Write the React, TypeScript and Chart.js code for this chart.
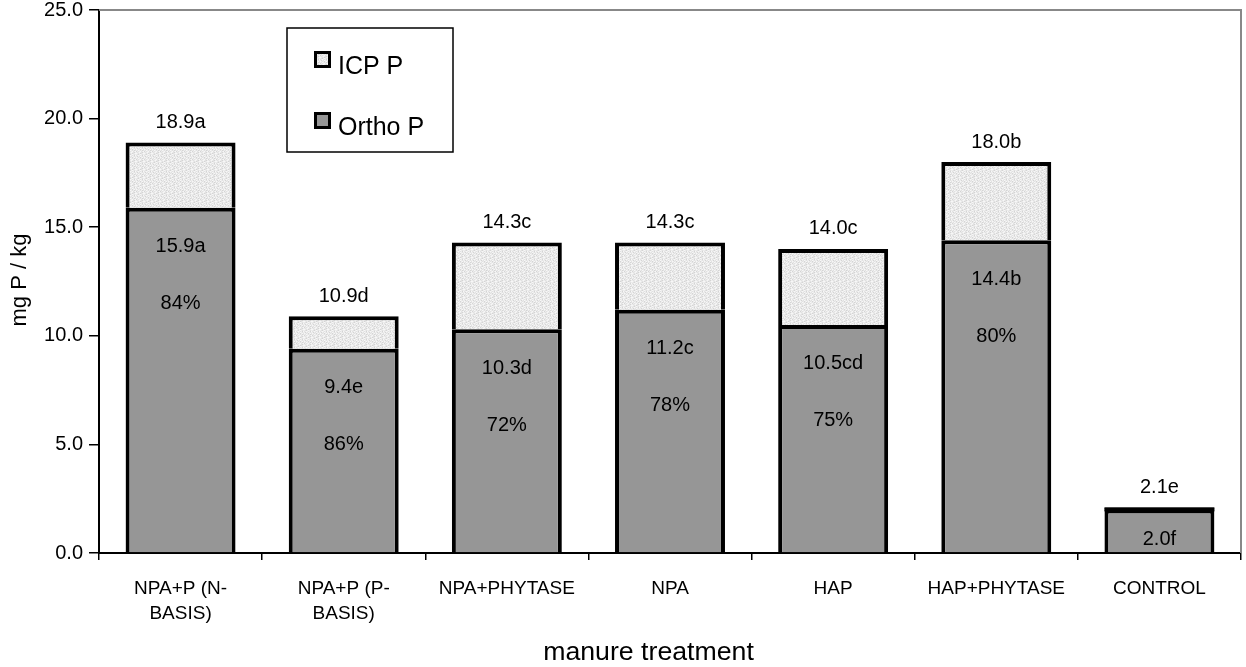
import React, { useEffect, useRef } from 'react';
import { Chart, registerables } from 'chart.js';

Chart.register(...registerables);

// ---- data ----
const categories: (string | string[])[] = [
  ['NPA+P (N-', 'BASIS)'],
  ['NPA+P (P-', 'BASIS)'],
  'NPA+PHYTASE',
  'NPA',
  'HAP',
  'HAP+PHYTASE',
  'CONTROL',
];
const totalP = [18.9, 10.9, 14.3, 14.3, 14.0, 18.0, 2.1];
const orthoP = [15.9, 9.4, 10.3, 11.2, 10.5, 14.4, 2.0];
const icpP = totalP.map((t, i) => Math.round((t - orthoP[i]) * 10) / 10);
const totalLabels = ['18.9a', '10.9d', '14.3c', '14.3c', '14.0c', '18.0b', '2.1e'];
const orthoLabels = ['15.9a', '9.4e', '10.3d', '11.2c', '10.5cd', '14.4b', '2.0f'];
const percentLabels = ['84%', '86%', '72%', '78%', '75%', '80%', ''];
const yTicks = [0, 5, 10, 15, 20, 25];
const seriesOrtho = 'Ortho P';
const seriesIcp = 'ICP P';
const xTitle = 'manure treatment';
const yTitle = 'mg P / kg';

const FONT = '"Liberation Sans", Arial, Helvetica, sans-serif';
const ORTHO_COLOR = '#969696';
const BAR_BORDER = 4;

function makePattern(): CanvasPattern | string {
  const tile = [
    'abacabda',
    'cabadbac',
    'abdacaba',
    'bacabadc',
    'adabcaba',
    'cabadacb',
    'abcabadb',
    'dabacbac',
  ];
  const colors: Record<string, string> = { a: '#ececec', b: '#e1e1e1', c: '#f7f7f7', d: '#d4d4d4' };
  const c = document.createElement('canvas');
  c.width = tile[0].length;
  c.height = tile.length;
  const g = c.getContext('2d');
  if (!g) return '#e8e8e8';
  tile.forEach((row, y) => {
    row.split('').forEach((ch, x) => {
      g.fillStyle = colors[ch];
      g.fillRect(x, y, 1, 1);
    });
  });
  const p = g.createPattern(c, 'repeat');
  return p || '#e8e8e8';
}

const annotPlugin = {
  id: 'annot',
  afterDatasetsDraw(chart: any) {
    // keep a full-weight top edge on very short stacked segments
    const ctx: CanvasRenderingContext2D = chart.ctx;
    const icpMeta = chart.getDatasetMeta(1);
    ctx.save();
    ctx.fillStyle = '#000';
    icpMeta.data.forEach((bar: any) => {
      const h = Math.abs(bar.base - bar.y);
      if (h < BAR_BORDER * 2) {
        const w = bar.width;
        ctx.fillRect(bar.x - w / 2, bar.y, w, BAR_BORDER);
      }
    });
    ctx.restore();
  },
  afterDraw(chart: any) {
    const ctx: CanvasRenderingContext2D = chart.ctx;
    const ca = chart.chartArea;
    ctx.save();
    // gray frame top/right
    ctx.strokeStyle = '#888888';
    ctx.lineWidth = 2;
    ctx.beginPath();
    ctx.moveTo(ca.left, ca.top);
    ctx.lineTo(ca.right, ca.top);
    ctx.lineTo(ca.right, ca.bottom);
    ctx.stroke();

    // value labels
    const orthoMeta = chart.getDatasetMeta(0);
    const icpMeta = chart.getDatasetMeta(1);
    ctx.fillStyle = '#000';
    ctx.font = `20px ${FONT}`;
    ctx.textAlign = 'center';
    ctx.textBaseline = 'middle';
    orthoMeta.data.forEach((bar: any, i: number) => {
      const x = bar.x;
      const top = icpMeta.data[i].y;
      ctx.fillText(totalLabels[i], x, top - 20);
      const oy = Math.min(bar.y + 39, bar.base - 13);
      ctx.fillText(orthoLabels[i], x, oy);
      if (percentLabels[i]) ctx.fillText(percentLabels[i], x, oy + 57);
    });

    // axis titles
    ctx.font = `26.7px ${FONT}`;
    ctx.textBaseline = 'alphabetic';
    ctx.fillText(xTitle, 648.5, 660);
    ctx.save();
    ctx.translate(20, 280);
    ctx.rotate(-Math.PI / 2);
    ctx.font = `22px ${FONT}`;
    ctx.textBaseline = 'middle';
    ctx.fillText(yTitle, 0, 0);
    ctx.restore();

    // legend box
    ctx.lineWidth = 1.5;
    ctx.strokeStyle = '#000';
    ctx.fillStyle = '#fff';
    ctx.fillRect(287, 28, 166, 124);
    ctx.strokeRect(287, 28, 166, 124);
    const items = [
      { label: chart.data.datasets[1].label, fill: chart.data.datasets[1].backgroundColor, y: 51, base: 74 },
      { label: chart.data.datasets[0].label, fill: chart.data.datasets[0].backgroundColor, y: 112, base: 135 },
    ];
    items.forEach((it) => {
      ctx.fillStyle = it.fill;
      ctx.fillRect(314, it.y, 17, 17);
      ctx.lineWidth = 3;
      ctx.strokeStyle = '#000';
      ctx.strokeRect(315.5, it.y + 1.5, 14, 14);
      ctx.fillStyle = '#000';
      ctx.font = `25px ${FONT}`;
      ctx.textAlign = 'left';
      ctx.textBaseline = 'alphabetic';
      ctx.fillText(it.label, 338, it.base);
    });
    ctx.restore();
  },
};

export default function App() {
  const ref = useRef<HTMLCanvasElement | null>(null);

  useEffect(() => {
    document.body.style.margin = '0';
    const canvas = ref.current;
    if (!canvas) return;
    const pattern = makePattern();
    const chart = new Chart(canvas, {
      type: 'bar',
      data: {
        labels: categories,
        datasets: [
          {
            label: seriesOrtho,
            data: orthoP,
            backgroundColor: ORTHO_COLOR,
            borderColor: '#000',
            borderWidth: BAR_BORDER,
            categoryPercentage: 1,
            barPercentage: 0.674,
          },
          {
            label: seriesIcp,
            data: icpP,
            backgroundColor: pattern as any,
            borderColor: '#000',
            borderWidth: BAR_BORDER,
            categoryPercentage: 1,
            barPercentage: 0.674,
          },
        ],
      },
      options: {
        responsive: false,
        animation: false,
        devicePixelRatio: 1,
        layout: { padding: { left: 0, right: 5, top: 10, bottom: 0 } },
        plugins: {
          legend: { display: false },
          tooltip: { enabled: false },
          title: { display: false },
        },
        scales: {
          x: {
            stacked: true,
            offset: true,
            grid: {
              offset: true,
              drawOnChartArea: false,
              drawTicks: true,
              tickLength: 7,
              color: '#000',
              lineWidth: 1.5,
            },
            border: { color: '#000', width: 2 },
            ticks: {
              color: '#000',
              font: { family: FONT, size: 19, lineHeight: 25 / 19 },
              padding: 16,
              maxRotation: 0,
              minRotation: 0,
              autoSkip: false,
            },
            afterFit: (s: any) => {
              s.height = 114;
              s.paddingLeft = 0;
              s.paddingRight = 0;
            },
          },
          y: {
            stacked: true,
            min: 0,
            max: 25,
            afterBuildTicks: (s: any) => {
              s.ticks = yTicks.map((v) => ({ value: v }));
            },
            ticks: {
              color: '#000',
              font: { family: FONT, size: 20 },
              padding: 6,
              callback: (v: any) => Number(v).toFixed(1),
            },
            grid: {
              drawOnChartArea: false,
              drawTicks: true,
              tickLength: 10,
              color: '#000',
              lineWidth: 1.5,
            },
            border: { color: '#000', width: 2 },
            afterFit: (s: any) => {
              s.width = 99;
              s.paddingTop = 0;
              s.paddingBottom = 0;
            },
          },
        },
      },
      plugins: [annotPlugin],
    });
    return () => chart.destroy();
  }, []);

  return (
    <div style={{ position: 'absolute', left: 0, top: 0, width: 1246, height: 667, background: '#fff' }}>
      <canvas ref={ref} width={1246} height={667} style={{ display: 'block', width: 1246, height: 667 }} />
    </div>
  );
}
